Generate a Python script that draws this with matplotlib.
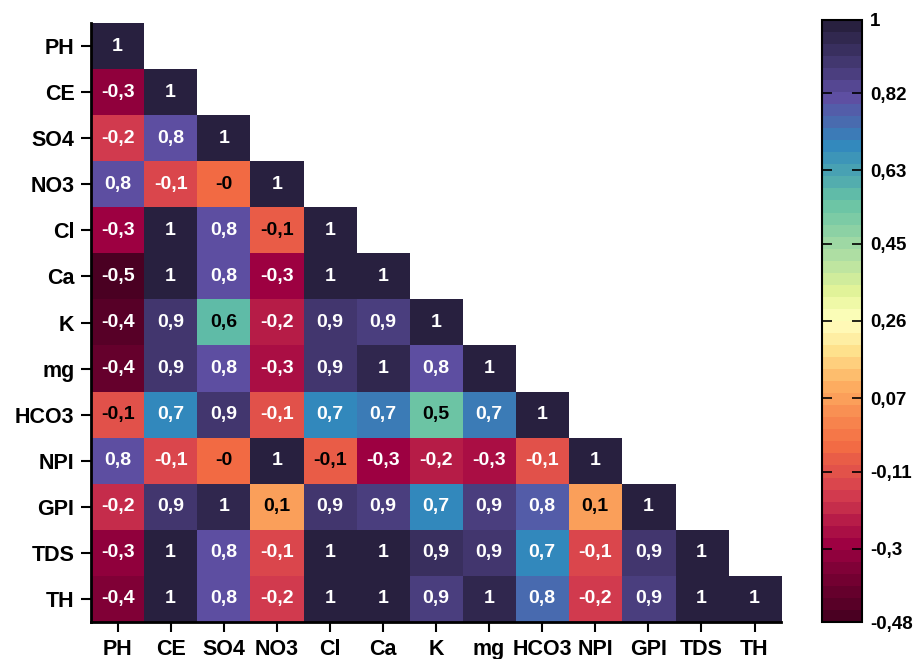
import numpy as np
import matplotlib
matplotlib.use("Agg")
import matplotlib.pyplot as plt
from matplotlib.colors import LinearSegmentedColormap, ListedColormap, Normalize

plt.rcParams['font.family'] = ['Liberation Sans', 'DejaVu Sans']

labels = ["PH", "CE", "SO4", "NO3", "Cl", "Ca", "K", "mg", "HCO3", "NPI", "GPI", "TDS", "TH"]

# lower triangle of the correlation matrix, row by row
rows = [
    [1.00],
    [-0.33, 1.00],
    [-0.17, 0.80, 1.00],
    [0.82, -0.13, -0.04, 1.00],
    [-0.30, 0.99, 0.82, -0.08, 1.00],
    [-0.48, 0.98, 0.80, -0.30, 0.99, 1.00],
    [-0.44, 0.91, 0.58, -0.23, 0.91, 0.88, 1.00],
    [-0.40, 0.91, 0.80, -0.27, 0.89, 0.97, 0.80, 1.00],
    [-0.10, 0.70, 0.91, -0.12, 0.70, 0.72, 0.54, 0.72, 1.00],
    [0.81, -0.13, -0.04, 1.00, -0.08, -0.28, -0.22, -0.27, -0.12, 1.00],
    [-0.19, 0.90, 0.96, 0.06, 0.90, 0.86, 0.68, 0.87, 0.78, 0.06, 1.00],
    [-0.32, 0.99, 0.80, -0.13, 0.99, 0.99, 0.92, 0.91, 0.70, -0.13, 0.89, 1.00],
    [-0.36, 0.99, 0.82, -0.17, 0.99, 0.99, 0.87, 0.97, 0.76, -0.18, 0.87, 0.99, 1.00],
]

cbar_ticks = [-0.48, -0.3, -0.11, 0.07, 0.26, 0.45, 0.63, 0.82, 1.0]

n = len(labels)
mat = np.full((n, n), np.nan)
for i, r in enumerate(rows):
    mat[i, :len(r)] = r

vmin, vmax = -0.48, 1.0
# colour stops (value, colour) of the colour map
stop_vals = [-0.48, -0.30, -0.17, -0.05, 0.10, 0.18, 0.26, 0.33, 0.43, 0.56, 0.70, 0.82, 1.0]
stop_cols = ["#4a0022", "#9e0142", "#d53e4f", "#f46d43", "#fdae61", "#fee08b", "#ffffbf",
             "#e6f598", "#abdda4", "#66c2a5", "#3288bd", "#5e4fa2", "#28203f"]
base = LinearSegmentedColormap.from_list(
    "sp", [((v - vmin) / (vmax - vmin), c) for v, c in zip(stop_vals, stop_cols)])
cmap = ListedColormap(base(np.linspace(0, 1, 50)))
cmap.set_bad("white")
norm = Normalize(vmin, vmax)

fig = plt.figure(figsize=(9.15, 6.59), dpi=100)
ax = fig.add_axes([0.0995, 0.0561, 0.7541, 0.9089])
im = ax.imshow(np.ma.masked_invalid(mat), cmap=cmap, norm=norm, aspect="auto",
               interpolation="nearest")

for i in range(n):
    for j in range(i + 1):
        v = mat[i, j]
        s = f"{v:.1f}".rstrip("0").rstrip(".").replace(".", ",")
        col = "black" if -0.11 < v < 0.65 else "white"
        ax.text(j, i, s, ha="center", va="center", color=col,
                fontsize=14, fontweight="bold")

ax.set_xticks(range(n))
ax.set_yticks(range(n))
ax.set_xticklabels(labels, fontsize=15.5, fontweight="bold")
ax.set_yticklabels(labels, fontsize=15.5, fontweight="bold")
ax.tick_params(direction="out", length=7, width=1.5, pad=5)
for sp in ["top", "right"]:
    ax.spines[sp].set_visible(False)
for sp in ["left", "bottom"]:
    ax.spines[sp].set_linewidth(2)
ax.set_xlim(-0.5, n - 0.5)
ax.set_ylim(n - 0.5, -0.5)

cax = fig.add_axes([0.898, 0.056, 0.0437, 0.914])
cb = fig.colorbar(im, cax=cax, ticks=cbar_ticks)
cb.set_ticklabels([f"{t:g}".replace(".", ",") for t in cbar_ticks])
cax.tick_params(direction="in", length=7, width=1.2, left=True, right=True,
                labelsize=13.5, pad=6)
for t in cax.get_yticklabels():
    t.set_fontweight("bold")
cb.outline.set_linewidth(1.5)

fig.savefig("out.png", dpi=100)
